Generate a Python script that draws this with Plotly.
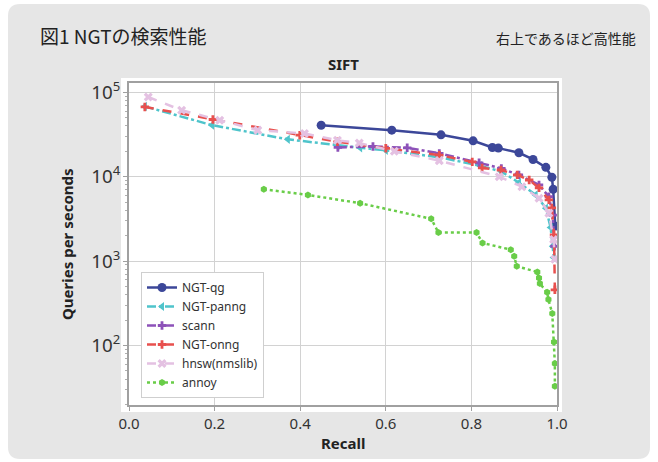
import plotly.graph_objects as go

# ---- data ----
ngt_qg_recall = [0.449, 0.614, 0.729, 0.804, 0.849, 0.863, 0.911, 0.944, 0.974, 0.988, 0.991, 0.996]
ngt_qg_qps = [40700, 35600, 31300, 26600, 22200, 21800, 19200, 16000, 12900, 9850, 7100, 2600]

ngt_panng_recall = [0.037, 0.194, 0.371, 0.487, 0.54, 0.60, 0.725, 0.82, 0.87, 0.911, 0.95, 0.974, 0.985, 0.99, 0.992]
ngt_panng_qps = [68000, 40800, 27700, 23500, 22000, 20500, 17000, 13500, 11500, 8500, 6080, 4240, 2500, 1500, 1100]

scann_recall = [0.488, 0.57, 0.65, 0.725, 0.818, 0.87, 0.911, 0.958, 0.981, 0.99, 0.994]
scann_qps = [22200, 22800, 22000, 18900, 14600, 12500, 10500, 7980, 5800, 3500, 1500]

ngt_onng_recall = [0.037, 0.196, 0.399, 0.487, 0.60, 0.725, 0.802, 0.825, 0.869, 0.907, 0.935, 0.958, 0.981, 0.988, 0.993, 0.995]
ngt_onng_qps = [67000, 47600, 31000, 25900, 21700, 18000, 15000, 12700, 12000, 10500, 9140, 7360, 5310, 4270, 2050, 457]

hnsw_recall = [0.045, 0.123, 0.212, 0.301, 0.41, 0.487, 0.538, 0.62, 0.725, 0.865, 0.918, 0.958, 0.981, 0.992, 0.995]
hnsw_qps = [88000, 61200, 46700, 35600, 32500, 27000, 25000, 20000, 15500, 10000, 7620, 5560, 3700, 1800, 1050]

annoy_recall = [0.315, 0.418, 0.540, 0.706, 0.723, 0.812, 0.826, 0.892, 0.90, 0.906, 0.954, 0.958, 0.96, 0.977, 0.98, 0.989, 0.993, 0.995, 0.995]
annoy_qps = [7100, 6080, 4850, 3170, 2180, 2180, 1640, 1365, 1140, 867, 744, 631, 541, 427, 350, 239, 110, 61, 33]

x_ticks = [0.0, 0.2, 0.4, 0.6, 0.8, 1.0]
x_tick_labels = ["0.0", "0.2", "0.4", "0.6", "0.8", "1.0"]

series = [
    ("NGT-qg", ngt_qg_recall, ngt_qg_qps, "#3c4799", "solid", "circle", 9),
    ("NGT-panng", ngt_panng_recall, ngt_panng_qps, "#4fc4cb", "dashdot", "triangle-left", 8),
    ("scann", scann_recall, scann_qps, "#8d52b9", "dashdot", "cross", 7),
    ("NGT-onng", ngt_onng_recall, ngt_onng_qps, "#e8504e", "dash", "cross", 7),
    ("hnsw(nmslib)", hnsw_recall, hnsw_qps, "#e4c1e2", "dash", "x", 8),
    ("annoy", annoy_recall, annoy_qps, "#69cd48", "dot", "hexagon", 7),
]

W, H = 658, 462
ML, MR, MT, MB = 129, 101, 83, 57
PW, PH = W - ML - MR, H - MT - MB


def px(x):
    return (x - ML) / PW


def py(y):
    return (H - MB - y) / PH


fig = go.Figure()
for name, xs, ys, color, dash, sym, size in series:
    fig.add_trace(go.Scatter(
        x=xs, y=ys, name=name, mode="lines+markers",
        line=dict(color=color, width=2.5, dash=dash),
        marker=dict(symbol=sym, size=size, color=color, line=dict(width=0)),
    ))


def rounded(x0, y0, x1, y1, r):
    X0, X1 = px(x0), px(x1)
    Y0, Y1 = py(y0), py(y1)
    rx, ry = r / PW, r / PH
    return (f"M {X0+rx},{Y0} L {X1-rx},{Y0} Q {X1},{Y0} {X1},{Y0-ry} "
            f"L {X1},{Y1+ry} Q {X1},{Y1} {X1-rx},{Y1} L {X0+rx},{Y1} "
            f"Q {X0},{Y1} {X0},{Y1+ry} L {X0},{Y0-ry} Q {X0},{Y0} {X0+rx},{Y0} Z")


fig.add_shape(type="path", path=rounded(8, 4, 650, 459, 12), xref="paper", yref="paper",
              fillcolor="#e6e6e6", line=dict(width=0), layer="below")
fig.add_shape(type="rect", xref="paper", yref="paper",
              x0=px(121), x1=px(562), y0=py(412), y1=py(78),
              fillcolor="white", line=dict(width=0), layer="below")

font_main = "Noto Sans, Noto Sans CJK JP, sans-serif"
fig.add_annotation(text="図1 NGTの検索性能", xref="paper", yref="paper", x=px(38), y=py(36),
                   xanchor="left", yanchor="middle", showarrow=False,
                   font=dict(size=19, color="#222", family="Noto Sans CJK JP"))
fig.add_annotation(text="右上であるほど高性能", xref="paper", yref="paper", x=px(638), y=py(38),
                   xanchor="right", yanchor="middle", showarrow=False,
                   font=dict(size=14, color="#222", family="Noto Sans CJK JP"))
fig.add_annotation(text="<b>SIFT</b>", xref="paper", yref="paper", x=0.5, y=py(64),
                   xanchor="center", yanchor="middle", showarrow=False,
                   font=dict(size=15, color="#222", family=font_main))
fig.add_annotation(text="<b>Recall</b>", xref="paper", yref="paper", x=0.5, y=py(443),
                   xanchor="center", yanchor="middle", showarrow=False,
                   font=dict(size=15, color="#222", family=font_main))
fig.add_annotation(text="<b>Queries per seconds</b>", xref="paper", yref="paper", x=px(67), y=0.5,
                   xanchor="center", yanchor="middle", showarrow=False, textangle=-90,
                   font=dict(size=15, color="#222", family=font_main))

fig.update_layout(
    width=W, height=H,
    margin=dict(l=ML, r=MR, t=MT, b=MB),
    paper_bgcolor="white", plot_bgcolor="white",
    font=dict(family=font_main, color="#333"),
    showlegend=True,
    legend=dict(x=px(141), y=py(272), xanchor="left", yanchor="top",
                bgcolor="white", bordercolor="#cfcfcf", borderwidth=1,
                font=dict(size=12, color="#333"), itemwidth=30,
                tracegroupgap=0),
)
fig.update_xaxes(range=[0, 1.0], tickvals=x_ticks, ticktext=x_tick_labels,
                 showgrid=True, gridcolor="#d2d2d2", gridwidth=1,
                 showline=True, linecolor="#a0a0a0", linewidth=1.5, mirror=True,
                 ticks="outside", ticklen=4, tickcolor="#a0a0a0",
                 tickfont=dict(size=15, color="#333"), zeroline=False)
fig.update_yaxes(type="log", range=[1.295, 5.11], dtick=1, exponentformat="power",
                 showgrid=True, gridcolor="#d2d2d2", gridwidth=1,
                 showline=True, linecolor="#a0a0a0", linewidth=1.5, mirror=True,
                 ticks="outside", ticklen=4, tickcolor="#a0a0a0",
                 minor=dict(ticks="outside", ticklen=2, tickcolor="#b0b0b0", showgrid=False),
                 tickfont=dict(size=15, color="#333"), zeroline=False)

fig.write_html("out.html", config={"displayModeBar": False},
               post_script="document.body.style.margin='0';")
